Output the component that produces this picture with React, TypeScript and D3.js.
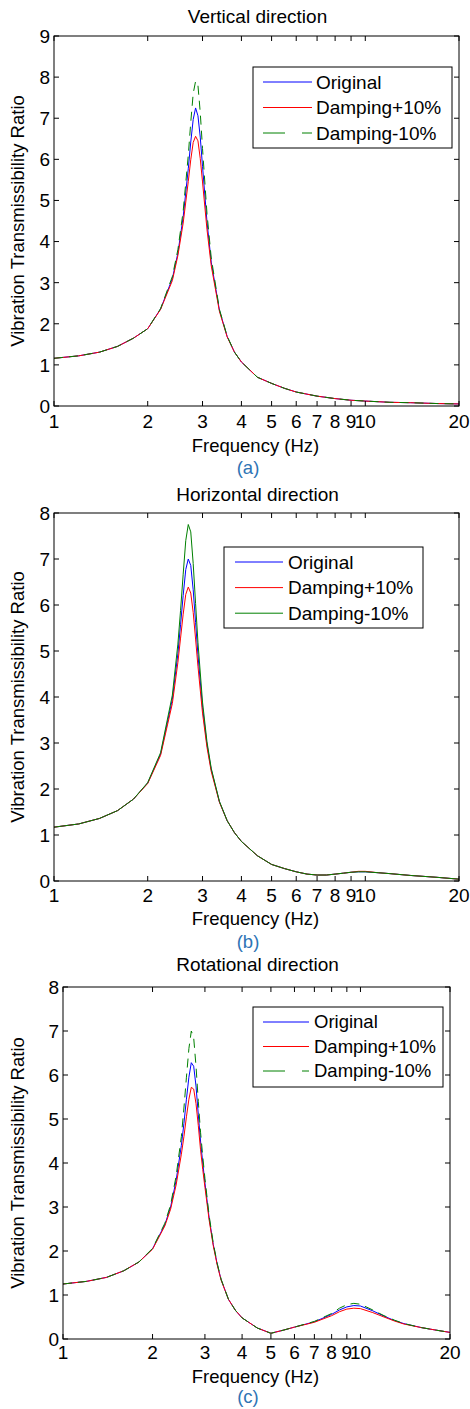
import React from 'react';
import * as d3 from 'd3';

// ---------- data ----------
const X_TICKS = [1, 2, 3, 4, 5, 6, 7, 8, 9, 10, 20];
const SERIES_NAMES = ['Original', 'Damping+10%', 'Damping-10%'];
const SERIES_COLORS = ['#0000ff', '#ff0000', '#008000'];

// (a) Vertical direction
const FREQ_A = [1, 1.2, 1.4, 1.6, 1.8, 2.0, 2.2, 2.4, 2.5, 2.6, 2.7, 2.75, 2.8, 2.85, 2.9, 2.95, 3.0, 3.1, 3.2, 3.4, 3.6, 3.8, 4.0, 4.5, 5, 5.5, 6, 7, 8, 9, 10, 12, 14, 17, 20];
const ORIGINAL_A = [1.16, 1.22, 1.31, 1.45, 1.65, 1.88, 2.36, 3.1, 3.72, 4.6, 5.77, 6.42, 6.97, 7.25, 7.06, 6.54, 5.83, 4.49, 3.5, 2.33, 1.69, 1.31, 1.07, 0.7, 0.55, 0.43, 0.34, 0.24, 0.18, 0.14, 0.12, 0.09, 0.08, 0.06, 0.05];
const PLUS10_A = [1.16, 1.22, 1.31, 1.45, 1.65, 1.88, 2.35, 3.05, 3.66, 4.45, 5.46, 5.99, 6.41, 6.56, 6.45, 6.02, 5.45, 4.3, 3.41, 2.3, 1.68, 1.31, 1.07, 0.7, 0.55, 0.43, 0.34, 0.24, 0.18, 0.14, 0.12, 0.09, 0.08, 0.06, 0.05];
const MINUS10_A = [1.16, 1.22, 1.31, 1.45, 1.65, 1.88, 2.37, 3.15, 3.8, 4.74, 6.1, 6.9, 7.6, 7.9, 7.8, 7.14, 6.26, 4.69, 3.6, 2.35, 1.7, 1.31, 1.07, 0.7, 0.55, 0.43, 0.34, 0.24, 0.18, 0.14, 0.12, 0.09, 0.08, 0.06, 0.05];

// (b) Horizontal direction
const FREQ_B = [1, 1.2, 1.4, 1.6, 1.8, 2.0, 2.2, 2.4, 2.5, 2.55, 2.6, 2.65, 2.7, 2.75, 2.8, 2.85, 2.9, 3.0, 3.1, 3.2, 3.4, 3.6, 3.8, 4.0, 4.5, 5, 5.5, 6, 6.5, 7, 7.5, 8, 8.5, 9, 9.5, 10, 11, 12, 14, 17, 20];
const ORIGINAL_B = [1.17, 1.24, 1.36, 1.53, 1.78, 2.13, 2.76, 3.95, 4.94, 5.57, 6.21, 6.77, 7.0, 6.86, 6.33, 5.62, 4.92, 3.77, 2.97, 2.42, 1.72, 1.31, 1.05, 0.86, 0.55, 0.36, 0.27, 0.2, 0.15, 0.13, 0.13, 0.15, 0.17, 0.19, 0.2, 0.2, 0.18, 0.16, 0.12, 0.08, 0.04];
const PLUS10_B = [1.17, 1.24, 1.36, 1.53, 1.78, 2.12, 2.73, 3.86, 4.75, 5.28, 5.8, 6.23, 6.39, 6.26, 5.84, 5.26, 4.67, 3.65, 2.91, 2.38, 1.71, 1.31, 1.05, 0.86, 0.55, 0.36, 0.27, 0.2, 0.15, 0.13, 0.13, 0.15, 0.17, 0.19, 0.21, 0.21, 0.18, 0.16, 0.12, 0.08, 0.04];
const MINUS10_B = [1.17, 1.24, 1.36, 1.53, 1.78, 2.14, 2.79, 4.04, 5.15, 5.88, 6.67, 7.4, 7.75, 7.59, 6.9, 6.03, 5.19, 3.89, 3.03, 2.45, 1.73, 1.31, 1.05, 0.86, 0.55, 0.36, 0.27, 0.2, 0.15, 0.13, 0.13, 0.15, 0.17, 0.19, 0.2, 0.2, 0.18, 0.16, 0.12, 0.08, 0.04];

// (c) Rotational direction
const FREQ_C = [1, 1.2, 1.4, 1.6, 1.8, 2.0, 2.2, 2.3, 2.4, 2.5, 2.55, 2.6, 2.65, 2.7, 2.75, 2.8, 2.85, 2.9, 2.95, 3.0, 3.1, 3.2, 3.3, 3.4, 3.6, 3.8, 4.0, 4.5, 5, 5.5, 6, 7, 8, 8.5, 9, 9.5, 10, 11, 12, 13, 14, 16, 18, 20];
const ORIGINAL_C = [1.25, 1.31, 1.4, 1.55, 1.75, 2.05, 2.6, 3.0, 3.6, 4.4, 4.9, 5.45, 5.95, 6.28, 6.2, 5.75, 5.1, 4.5, 4.0, 3.55, 2.75, 2.15, 1.7, 1.35, 0.9, 0.65, 0.48, 0.25, 0.13, 0.2, 0.27, 0.39, 0.56, 0.66, 0.73, 0.76, 0.75, 0.64, 0.52, 0.42, 0.35, 0.26, 0.2, 0.15];
const PLUS10_C = [1.25, 1.31, 1.4, 1.55, 1.75, 2.04, 2.57, 2.95, 3.5, 4.2, 4.6, 5.05, 5.45, 5.72, 5.68, 5.35, 4.85, 4.3, 3.85, 3.45, 2.7, 2.12, 1.68, 1.34, 0.9, 0.65, 0.48, 0.25, 0.13, 0.2, 0.27, 0.38, 0.53, 0.62, 0.68, 0.7, 0.69, 0.6, 0.5, 0.41, 0.34, 0.26, 0.2, 0.15];
const MINUS10_C = [1.25, 1.31, 1.4, 1.55, 1.75, 2.06, 2.63, 3.05, 3.7, 4.6, 5.25, 5.95, 6.6, 7.0, 6.85, 6.2, 5.4, 4.7, 4.15, 3.65, 2.8, 2.18, 1.72, 1.36, 0.9, 0.65, 0.48, 0.25, 0.13, 0.2, 0.27, 0.4, 0.58, 0.7, 0.78, 0.81, 0.79, 0.66, 0.53, 0.43, 0.35, 0.26, 0.2, 0.15];

// ---------- layout ----------
const FONT = '"Liberation Sans", Arial, Helvetica, sans-serif';

type PanelCfg = {
  id: string;
  title: string;
  caption: string;
  freq: number[];
  series: number[][];
  yMax: number;
  left: number; right: number; top: number; bottom: number;
  titleY: number; tickY: number; xlabelY: number; captionY: number;
  legend: { x0: number; x1: number; y0: number; y1: number; row0: number; rowGap: number; lx0: number; lx1: number; tx: number; fs: number };
  greenDashed: boolean;
};

const PANELS: PanelCfg[] = [
  {
    id: 'a', title: 'Vertical direction', caption: '(a)',
    freq: FREQ_A, series: [ORIGINAL_A, PLUS10_A, MINUS10_A], yMax: 9,
    left: 54, right: 459, top: 36, bottom: 406,
    titleY: 23, tickY: 428, xlabelY: 452, captionY: 474,
    legend: { x0: 253, x1: 452, y0: 67, y1: 148, row0: 82, rowGap: 25.5, lx0: 263, lx1: 312, tx: 316, fs: 19 },
    greenDashed: true,
  },
  {
    id: 'b', title: 'Horizontal direction', caption: '(b)',
    freq: FREQ_B, series: [ORIGINAL_B, PLUS10_B, MINUS10_B], yMax: 8,
    left: 54, right: 459, top: 513, bottom: 881,
    titleY: 501, tickY: 902, xlabelY: 925, captionY: 948,
    legend: { x0: 224, x1: 423, y0: 547, y1: 628, row0: 562, rowGap: 25.6, lx0: 235, lx1: 283, tx: 288, fs: 19 },
    greenDashed: false,
  },
  {
    id: 'c', title: 'Rotational direction', caption: '(c)',
    freq: FREQ_C, series: [ORIGINAL_C, PLUS10_C, MINUS10_C], yMax: 8,
    left: 63, right: 450, top: 987, bottom: 1339,
    titleY: 971, tickY: 1359, xlabelY: 1383, captionY: 1403,
    legend: { x0: 253, x1: 443, y0: 1007, y1: 1087, row0: 1022, rowGap: 24.5, lx0: 263, lx1: 309, tx: 314, fs: 18.5 },
    greenDashed: true,
  },
];

function Panel({ cfg }: { cfg: PanelCfg }) {
  const x = d3.scaleLog().domain([1, 20]).range([cfg.left, cfg.right]);
  const y = d3.scaleLinear().domain([0, cfg.yMax]).range([cfg.bottom, cfg.top]);
  const yTicks = d3.range(0, cfg.yMax + 1);
  const line = d3
    .line<[number, number]>()
    .x((d) => x(d[0]))
    .y((d) => y(d[1]));
  const cx = (cfg.left + cfg.right) / 2;
  const cy = (cfg.top + cfg.bottom) / 2;
  const tl = 5;
  const L = cfg.legend;
  return (
    <g fontFamily={FONT} fill="#000">
      <defs>
        <clipPath id={`clip-${cfg.id}`}>
          <rect x={cfg.left} y={cfg.top} width={cfg.right - cfg.left} height={cfg.bottom - cfg.top} />
        </clipPath>
      </defs>
      <text x={cx + 1} y={cfg.titleY} fontSize={19} textAnchor="middle">{cfg.title}</text>
      {/* curves */}
      <g clipPath={`url(#clip-${cfg.id})`} fill="none">
        {cfg.series.map((vals, si) => (
          <path
            key={si}
            d={line(cfg.freq.map((f, i) => [f, vals[i]] as [number, number])) || ''}
            stroke={SERIES_COLORS[si]}
            strokeWidth={1}
            strokeDasharray={si === 2 && cfg.greenDashed ? '9,6' : undefined}
          />
        ))}
      </g>
      {/* axes box */}
      <rect x={cfg.left} y={cfg.top} width={cfg.right - cfg.left} height={cfg.bottom - cfg.top} fill="none" stroke="#000" strokeWidth={1} />
      {X_TICKS.map((t) => (
        <g key={`x${t}`}>
          <line x1={x(t)} x2={x(t)} y1={cfg.bottom} y2={cfg.bottom - tl} stroke="#000" />
          <line x1={x(t)} x2={x(t)} y1={cfg.top} y2={cfg.top + tl} stroke="#000" />
          <text x={x(t)} y={cfg.tickY} fontSize={19} textAnchor="middle">{t}</text>
        </g>
      ))}
      {yTicks.map((t) => (
        <g key={`y${t}`}>
          <line x1={cfg.left} x2={cfg.left + tl} y1={y(t)} y2={y(t)} stroke="#000" />
          <line x1={cfg.right} x2={cfg.right - tl} y1={y(t)} y2={y(t)} stroke="#000" />
          <text x={cfg.left - 4} y={y(t)} dy="0.36em" fontSize={19} textAnchor="end">{t}</text>
        </g>
      ))}
      <text x={cx - 1} y={cfg.xlabelY} fontSize={18.5} textAnchor="middle">Frequency (Hz)</text>
      <text transform={`translate(24,${cy}) rotate(-90)`} fontSize={18.5} textAnchor="middle">Vibration Transmissibility Ratio</text>
      <text x={248} y={cfg.captionY} fontSize={18.5} textAnchor="middle" fill="#2e74b5">{cfg.caption}</text>
      {/* legend */}
      <rect x={L.x0} y={L.y0} width={L.x1 - L.x0} height={L.y1 - L.y0} fill="#fff" stroke="#000" strokeWidth={1} />
      {SERIES_NAMES.map((name, si) => {
        const ry = L.row0 + si * L.rowGap;
        return (
          <g key={name}>
            <line
              x1={L.lx0} x2={L.lx1} y1={ry} y2={ry}
              stroke={SERIES_COLORS[si]} strokeWidth={1}
              strokeDasharray={si === 2 && cfg.greenDashed ? '22,17' : undefined}
            />
            <text x={L.tx} y={ry} dy="0.35em" fontSize={L.fs}>{name}</text>
          </g>
        );
      })}
    </g>
  );
}

export default function App() {
  return (
    <svg
      width={470}
      height={1409}
      viewBox="0 0 470 1409"
      style={{ position: 'absolute', left: 0, top: 0, background: '#fff' }}
    >
      <rect x={0} y={0} width={470} height={1409} fill="#fff" />
      {PANELS.map((p) => (
        <Panel key={p.id} cfg={p} />
      ))}
    </svg>
  );
}
